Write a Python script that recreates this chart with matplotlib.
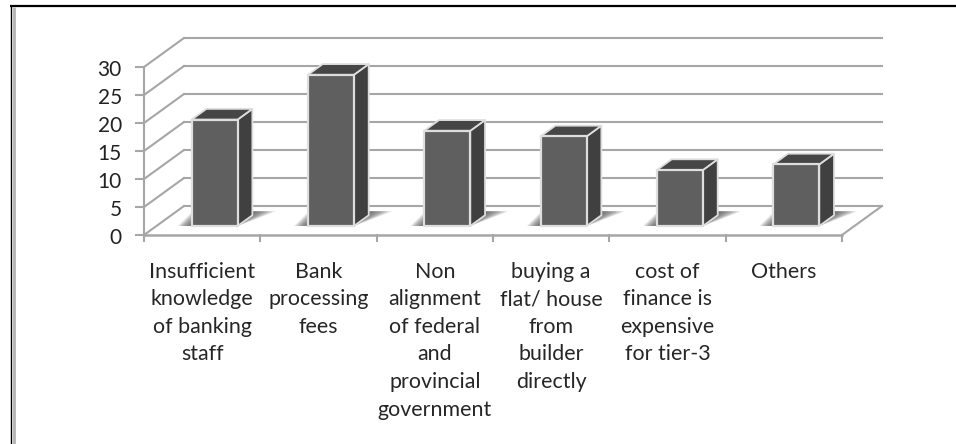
import numpy as np
import matplotlib
matplotlib.use("Agg")
import matplotlib.pyplot as plt
from matplotlib.patches import Polygon

categories = [
    "Insufficient\nknowledge\nof banking\nstaff",
    "Bank\nprocessing\nfees",
    "Non\nalignment\nof federal\nand\nprovincial\ngovernment",
    "buying a\nflat/ house\nfrom\nbuilder\ndirectly",
    "cost of\nfinance is\nexpensive\nfor tier-3",
    "Others",
]
values = [19, 27, 17, 16, 10, 11]
y_ticks = [0, 5, 10, 15, 20, 25, 30]

W, H = 956, 444
plt.rcParams['font.family'] = ['Lato', 'DejaVu Sans']

fig = plt.figure(figsize=(W / 100, H / 100), dpi=100)

# front plane of the chart box, in pixels
left, right, bottom, top = 144, 842, 235, 67
ax = fig.add_axes([left / W, 1 - bottom / H, (right - left) / W, (bottom - top) / H])
ax.set_xlim(0, 6)
ax.set_ylim(0, 30)
ax.axis('off')

# pixel sizes in data units
px_x = 6 / (right - left)
px_y = 30 / (bottom - top)

# depth of the box and of the bars, in data units
depth_x = 40 * px_x
depth_y = 29 * px_y
grid_c = '#a6a6a6'


def oblique(x, y, d):
    return x + d * depth_x, y + d * depth_y


# back wall grid lines, side wall and floor
for t in y_ticks:
    bx, by = oblique(0, t, 1)
    ax.plot([0, bx], [t, by], color=grid_c, lw=1.5, clip_on=False, zorder=1)
    ax.plot([bx, 6 + depth_x], [by, by], color=grid_c, lw=1.5, clip_on=False, zorder=1)
    ax.plot([-0.07, 0], [t, t], color=grid_c, lw=1.5, clip_on=False, zorder=1)
ax.plot([0, 0], [0, 30], color=grid_c, lw=1.5, clip_on=False, zorder=1)
ax.plot([0, 6], [0, 0], color=grid_c, lw=1.8, clip_on=False, zorder=1)
ax.plot([6, 6 + depth_x], [0, depth_y], color=grid_c, lw=1.5, clip_on=False, zorder=1)
for i in range(7):
    ax.plot([i, i], [0, -1.0], color=grid_c, lw=1.5, clip_on=False, zorder=1)

# bars
bar_w = 46 * px_x
d0, d1 = 0.31, 0.68
edge_c = '#dedede'
for i, v in enumerate(values):
    x0 = i + 0.5 - bar_w / 2
    x1 = x0 + bar_w
    ax0, ay0 = oblique(x0, 0, d0)
    ax1, ay1 = oblique(x1, 0, d0)
    dx = (d1 - d0) * depth_x
    dy = (d1 - d0) * depth_y

    # soft floor shadow behind the bar, built from nested layers
    layers = 20
    for k in range(layers):
        f = 1 - k / layers
        top_y = ay0 + dy + 4 * px_y
        shadow = Polygon([(ax0 - 14 * px_x * f, ay0),
                          (ax1, ay0),
                          (ax1 + dx + 24 * px_x * f, top_y),
                          (ax0 - 14 * px_x * f + dx, top_y)],
                         closed=True, fc='#505050', ec='none', alpha=0.07, zorder=2, clip_on=False)
        ax.add_patch(shadow)

    front = [(ax0, ay0), (ax1, ay0), (ax1, ay0 + v), (ax0, ay0 + v)]
    side = [(ax1, ay0), (ax1 + dx, ay0 + dy), (ax1 + dx, ay0 + v + dy), (ax1, ay0 + v)]
    cap = [(ax0, ay0 + v), (ax1, ay0 + v), (ax1 + dx, ay0 + v + dy), (ax0 + dx, ay0 + v + dy)]
    ax.add_patch(Polygon(side, closed=True, fc='#404040', ec=edge_c, lw=1.3, joinstyle='round', zorder=3, clip_on=False))
    ax.add_patch(Polygon(cap, closed=True, fc='#464646', ec=edge_c, lw=1.3, joinstyle='round', zorder=3, clip_on=False))
    ax.add_patch(Polygon(front, closed=True, fc='#5f5f5f', ec=edge_c, lw=1.6, joinstyle='round', zorder=4, clip_on=False))

# axis labels
for t in y_ticks:
    ax.text(-0.19, t - 0.45, str(t), ha='right', va='center', fontsize=15, color='#222222', clip_on=False)
for i, name in enumerate(categories):
    ax.text(i + 0.5, -4.75, name, ha='center', va='top', fontsize=15.4, color='#262626',
            linespacing=1.475, clip_on=False)

# outer frame lines
fig.add_artist(plt.Line2D([10 / W, 1], [1 - 6 / H, 1 - 6 / H], color='black', lw=1.6, solid_capstyle='butt'))
fig.add_artist(plt.Line2D([10.7 / W, 10.7 / W], [0, 1 - 5 / H], color='black', lw=1.0, solid_capstyle='butt'))
fig.add_artist(plt.Line2D([13.5 / W, 13.5 / W], [0, 1 - 7 / H], color='#b4b4b4', lw=2.0, solid_capstyle='butt'))

fig.savefig('out.png', dpi=100)
